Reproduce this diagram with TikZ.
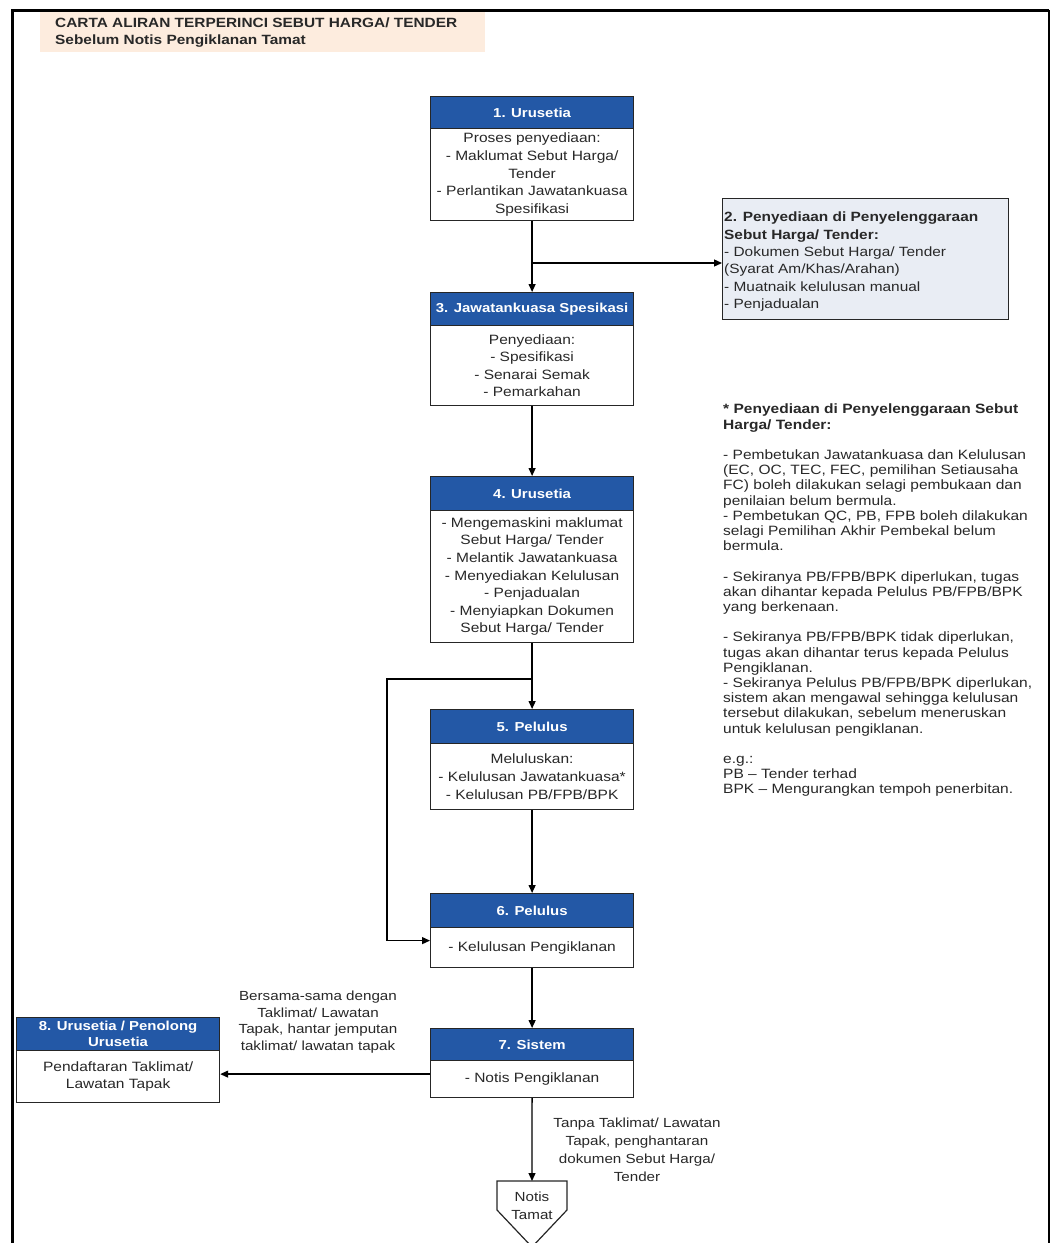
\documentclass[tikz,border=0pt]{standalone}
\usepackage{fontspec}
\setmainfont{Liberation Sans}[FakeStretch=1.15]
\usetikzlibrary{arrows.meta}
\definecolor{hblue}{RGB}{35,88,166}
\definecolor{boxtwo}{RGB}{233,237,244}
\definecolor{peach}{RGB}{253,236,222}
\definecolor{txt}{RGB}{40,40,40}
\begin{document}
\begin{tikzpicture}[x=1pt,y=-1pt,
 hdr/.style={draw=black!85, line width=1.2pt, fill=hblue, text=white, font=\bfseries\fontsize{13}{16}\selectfont, minimum width=203pt, anchor=north west, inner sep=0pt, align=center},
 bdy/.style={draw=black!85, line width=1.2pt, fill=white, text=txt, font=\fontsize{13.5}{17.6}\selectfont, minimum width=203pt, anchor=north west, inner sep=0pt, align=center},
 lbl/.style={text=txt, font=\fontsize{13.2}{16.7}\selectfont, align=center, inner sep=0pt},
 arr/.style={draw=black, line width=1.3pt, -{Triangle[length=8pt,width=7pt]}},
]
\useasboundingbox (0,0) rectangle (1052,1243);
% frame
\draw[line width=3pt] (12,1260) -- (12,10) -- (1049,10);
\draw[line width=2pt] (1049,10) -- (1049,1260);
% title
\fill[peach] (40,12) rectangle (485,52);
\node[anchor=base west, inner sep=0pt, text=txt, font=\bfseries\fontsize{13.4}{16}\selectfont] (t1) at (55,27.7) {CARTA ALIRAN TERPERINCI SEBUT HARGA/ TENDER};
\node[anchor=base west, inner sep=0pt, text=txt, font=\bfseries\fontsize{13.4}{16}\selectfont] (t2) at (55,44.7) {Sebelum Notis Pengiklanan Tamat};
% box 1
\node[hdr, minimum height=32pt] (h1) at (430,96) {1. Urusetia};
\node[bdy, minimum height=92pt] (b1) at (430,128) {Proses penyediaan:\\- Maklumat Sebut Harga/\\Tender\\- Perlantikan Jawatankuasa\\Spesifikasi};
% box 2
\node[draw=black!85, line width=1.2pt, fill=boxtwo, minimum width=286pt, minimum height=121pt, anchor=north west, inner sep=0pt] (b2) at (722,198) {};
\node[anchor=north west, inner sep=0pt, align=left, text=txt, font=\fontsize{13.4}{17.3}\selectfont] (b2t) at (724,212) {\textbf{2. Penyediaan di Penyelenggaraan}\\\textbf{Sebut Harga/ Tender:}\\- Dokumen Sebut Harga/ Tender\\(Syarat Am/Khas/Arahan)\\- Muatnaik kelulusan manual\\- Penjadualan};
% box 3
\node[hdr, minimum height=33pt] (h3) at (430,292) {3. Jawatankuasa Spesikasi};
\node[bdy, minimum height=80pt] (b3) at (430,325) {Penyediaan:\\- Spesifikasi\\- Senarai Semak\\- Pemarkahan};
% box 4
\node[hdr, minimum height=34pt] (h4) at (430,476) {4. Urusetia};
\node[bdy, minimum height=132pt] (b4) at (430,510) {- Mengemaskini maklumat\\Sebut Harga/ Tender\\- Melantik Jawatankuasa\\- Menyediakan Kelulusan\\- Penjadualan\\- Menyiapkan Dokumen\\Sebut Harga/ Tender};
% box 5
\node[hdr, minimum height=34pt] (h5) at (430,709) {5. Pelulus};
\node[bdy, minimum height=66pt] (b5) at (430,743) {Meluluskan:\\- Kelulusan Jawatankuasa*\\- Kelulusan PB/FPB/BPK};
% box 6
\node[hdr, minimum height=34pt] (h6) at (430,893) {6. Pelulus};
\node[bdy, minimum height=40pt] (b6) at (430,927) {- Kelulusan Pengiklanan};
% box 7
\node[hdr, minimum height=32pt] (h7) at (430,1028) {7. Sistem};
\node[bdy, minimum height=37pt] (b7) at (430,1060) {- Notis Pengiklanan};
% box 8
\node[hdr, minimum height=33pt] (h8) at (16,1017) {8. Urusetia / Penolong\\Urusetia};
\node[bdy, minimum height=52pt, font=\fontsize{13.5}{16.5}\selectfont] (b8) at (16,1050) {Pendaftaran Taklimat/\\Lawatan Tapak};
% end shape
\coordinate (ntop) at (532,1181);
\draw[draw=black!85, line width=1.2pt, fill=white] (497,1181) -- (567,1181) -- (567,1210) -- (532,1247) -- (497,1210) -- cycle;
\node[lbl, font=\fontsize{13.2}{18}\selectfont] (nt) at (532,1206) {Notis\\Tamat};
% right notes
\node[anchor=north west, inner sep=0pt, align=left, text=txt, font=\fontsize{13.5}{15.2}\selectfont] (notes) at (723,404) {\textbf{* Penyediaan di Penyelenggaraan Sebut}\\\textbf{Harga/ Tender:}\\[15.2pt]
- Pembetukan Jawatankuasa dan Kelulusan\\(EC, OC, TEC, FEC, pemilihan Setiausaha\\FC) boleh dilakukan selagi pembukaan dan\\penilaian belum bermula.\\- Pembetukan QC, PB, FPB boleh dilakukan\\selagi Pemilihan Akhir Pembekal belum\\bermula.\\[15.2pt]
- Sekiranya PB/FPB/BPK diperlukan, tugas\\akan dihantar kepada Pelulus PB/FPB/BPK\\yang berkenaan.\\[15.2pt]
- Sekiranya PB/FPB/BPK tidak diperlukan,\\tugas akan dihantar terus kepada Pelulus\\Pengiklanan.\\- Sekiranya Pelulus PB/FPB/BPK diperlukan,\\sistem akan mengawal sehingga kelulusan\\tersebut dilakukan, sebelum meneruskan\\untuk kelulusan pengiklanan.\\[15.2pt]
e.g.:\\PB – Tender terhad\\BPK – Mengurangkan tempoh penerbitan.};
% labels
\node[lbl] (l1) at (318,1022) {Bersama-sama dengan\\Taklimat/ Lawatan\\Tapak, hantar jemputan\\taklimat/ lawatan tapak};
\node[lbl, font=\fontsize{13.2}{18}\selectfont] (l2) at (637,1150) {Tanpa Taklimat/ Lawatan\\Tapak, penghantaran\\dokumen Sebut Harga/\\Tender};
% connectors
\coordinate (j1) at (531.5,263);
\coordinate (loopL) at (387,679);
\draw[arr] (b1.south) -- (h3.north);
\draw[arr] (b1.south |- j1) -- (b2.west |- j1);
\draw[arr] (b3.south) -- (h4.north);
\draw[arr] (b4.south) -- (h5.north);
\draw[arr] (b4.south |- loopL) -- (loopL) |- ([yshift=7pt]b6.west);
\draw[arr] (b5.south) -- (h6.north);
\draw[arr] (b6.south) -- (h7.north);
\draw[arr] ([yshift=5pt]b7.west) -- ([yshift=5pt]b7.west -| b8.east);
\draw[arr] (b7.south) -- (ntop);
\end{tikzpicture}
\end{document}
